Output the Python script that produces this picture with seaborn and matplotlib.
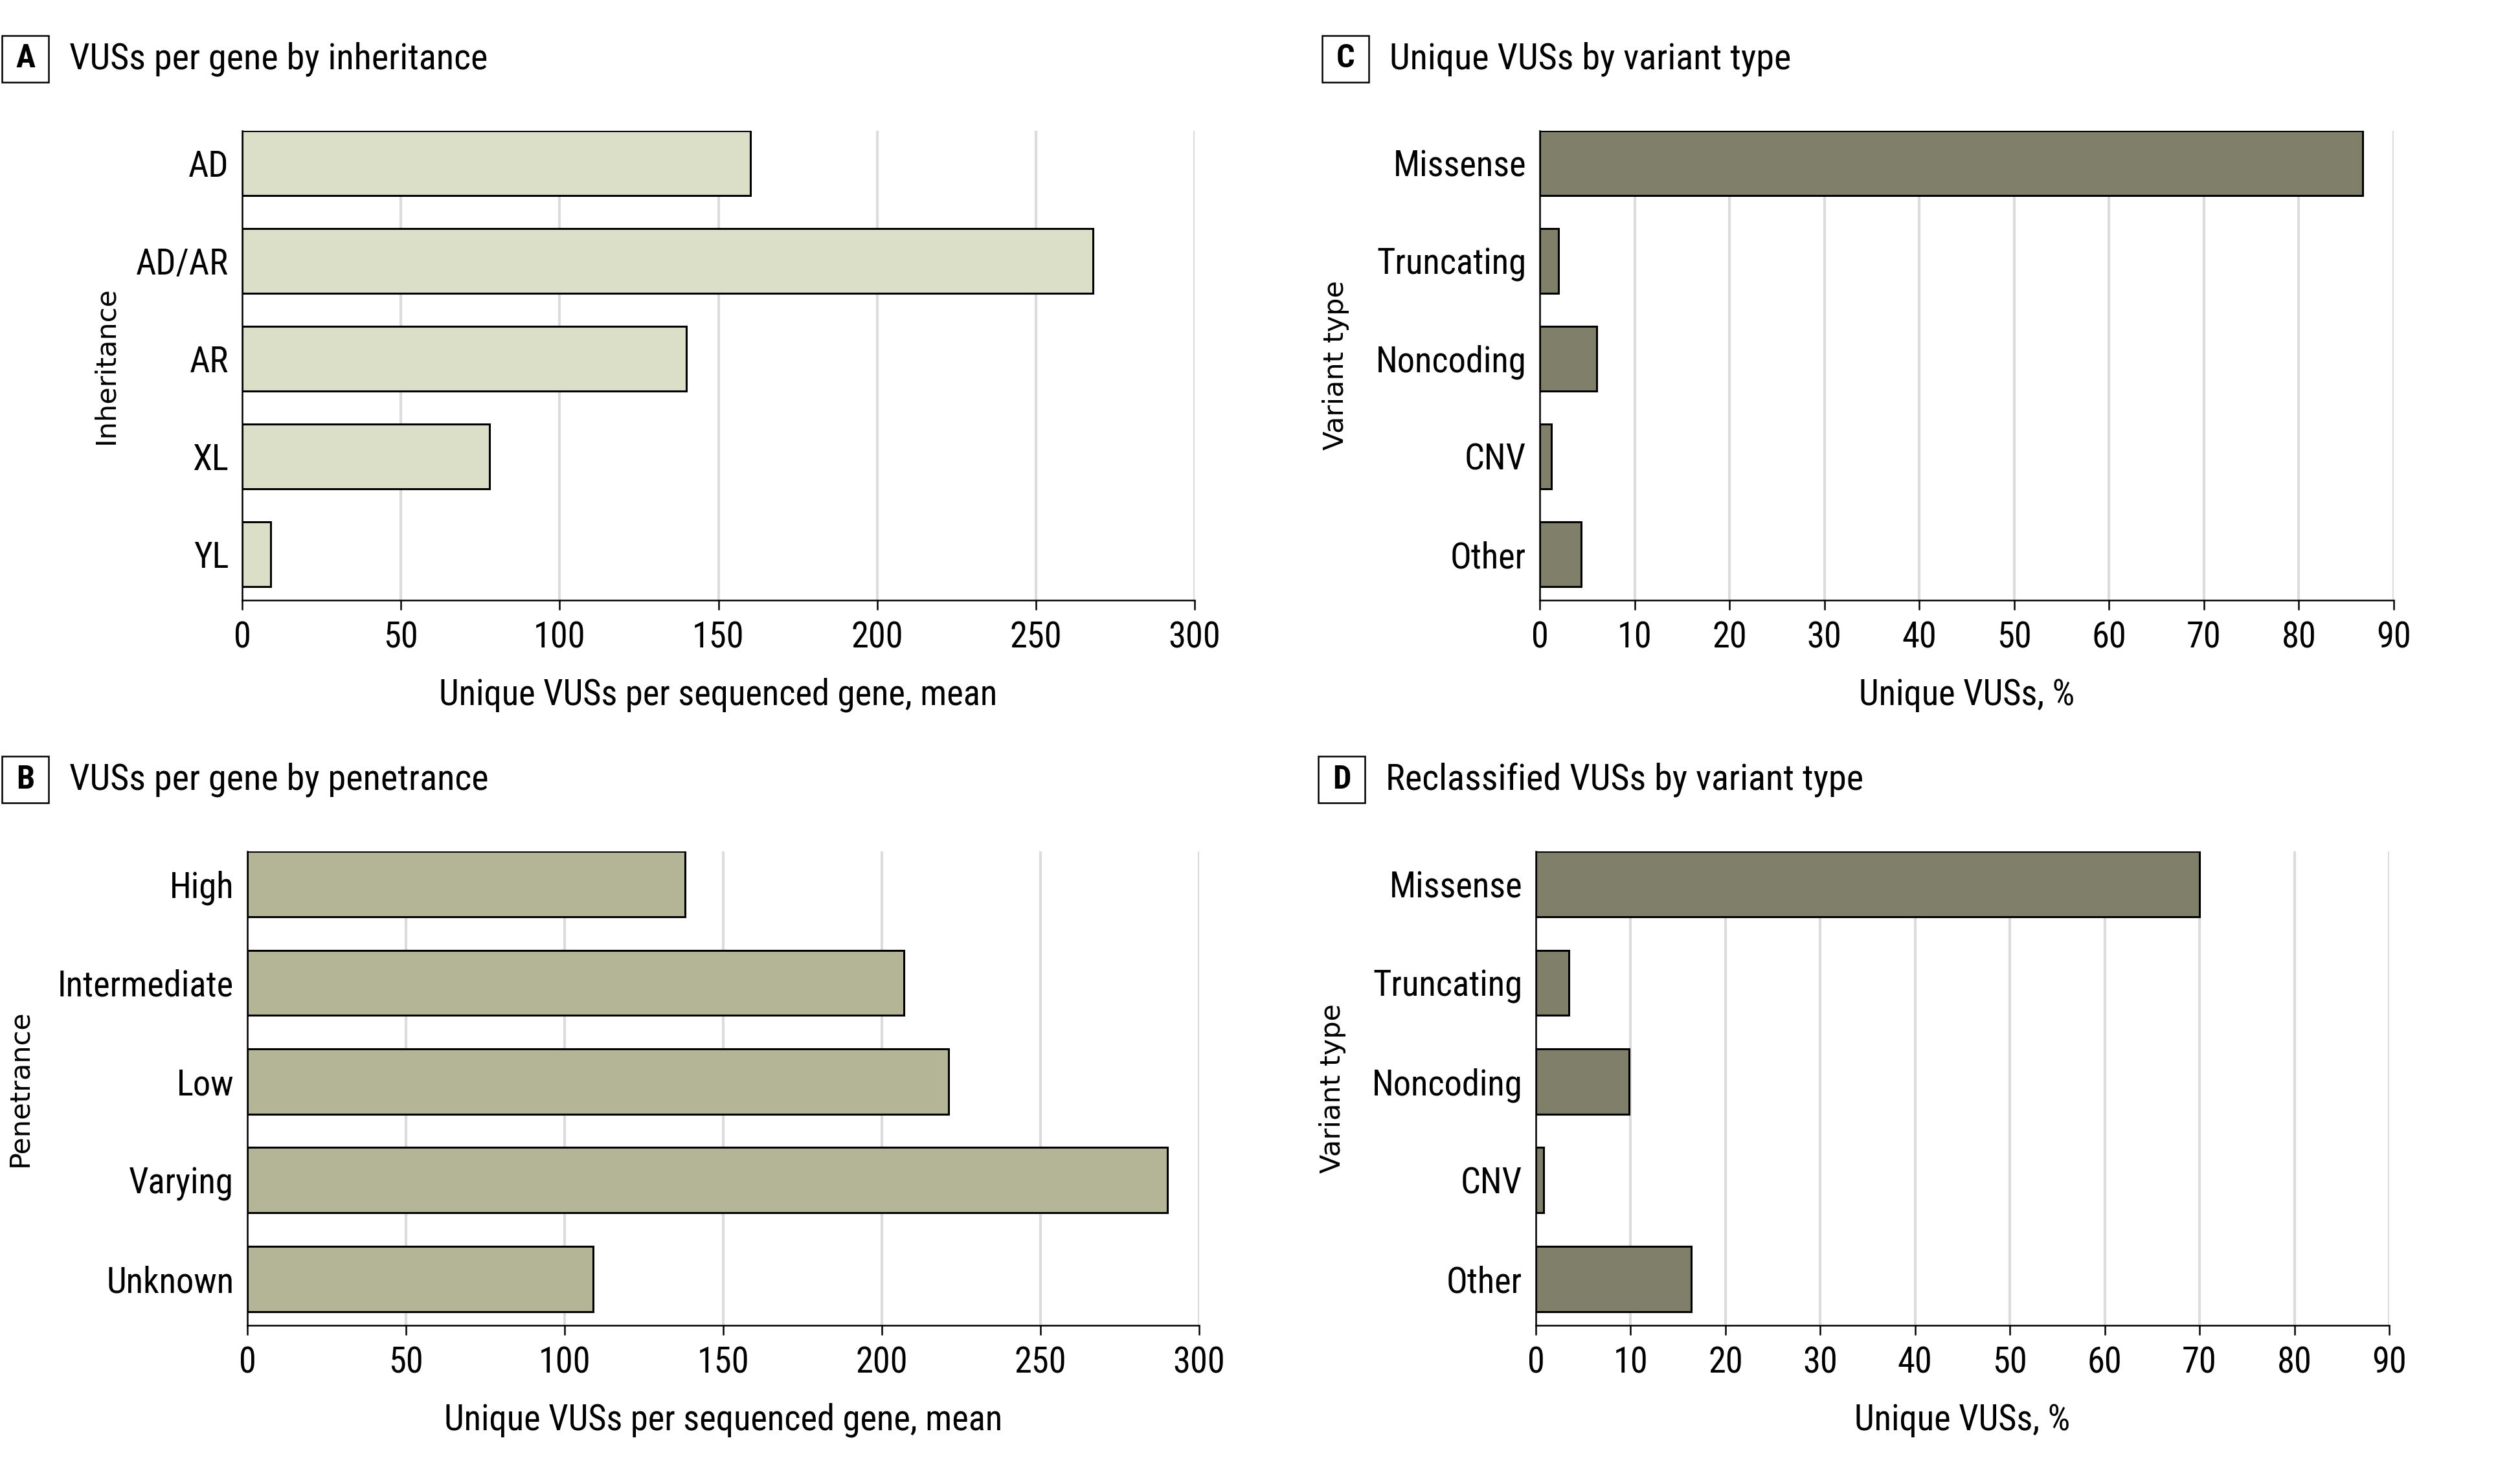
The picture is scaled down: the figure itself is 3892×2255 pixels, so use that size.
import matplotlib
matplotlib.use("Agg")
import matplotlib.pyplot as plt
import seaborn as sns
from matplotlib.patches import Rectangle
from matplotlib import font_manager
from matplotlib.textpath import TextPath

# data
inheritance = ["AD", "AD/AR", "AR", "XL", "YL"]
inheritance_vus = [160, 268, 140, 78, 9]

penetrance = ["High", "Intermediate", "Low", "Varying", "Unknown"]
penetrance_vus = [138, 207, 221, 290, 109]

variant_types = ["Missense", "Truncating", "Noncoding", "CNV", "Other"]
unique_pct = [86.7, 2.0, 6.0, 1.2, 4.4]
reclassified_pct = [70.0, 3.5, 9.8, 0.8, 16.4]

sns.set_theme(style="white")

# the journal style uses a condensed face; take the narrowest one we have
installed = {f.name for f in font_manager.fontManager.ttflist}
main_font = "DejaVu Sans"
for cand in ["Liberation Sans Narrow", "Roboto Condensed", "DejaVu Sans Condensed",
             "Open Sans Condensed", "Noto Sans Condensed", "Roboto"]:
    if cand in installed:
        main_font = cand
        break
plt.rcParams['font.family'] = [main_font, 'DejaVu Sans']

# size the text so "Intermediate" is as wide as in the reference (~266 px)
probe = TextPath((0, 0), "Intermediate", size=1,
                 prop=font_manager.FontProperties(family=main_font))
FS = min(42, 266 * 0.72 / probe.get_extents().width)

W, H = 3892, 2255
fig = plt.figure(figsize=(W / 100, H / 100), dpi=100)

mean_label = "Unique VUSs per sequenced gene, mean"
pct_label = "Unique VUSs, %"

# letter, title, categories, values, colour, ylabel, xlabel, xmax, step,
# axes box in pixels (left, top, right, bottom), box left px, ylabel centre px
panels = [
    ("A", "VUSs per gene by inheritance", inheritance, inheritance_vus, "#dbdfc8",
     "Inheritance", mean_label, 300, 50, (374, 202, 1845, 927), 3, 163),
    ("B", "VUSs per gene by penetrance", penetrance, penetrance_vus, "#b3b596",
     "Penetrance", mean_label, 300, 50, (382, 1315, 1852, 2047), 3, 30),
    ("C", "Unique VUSs by variant type", variant_types, unique_pct, "#807f69",
     "Variant type", pct_label, 90, 10, (2378, 202, 3697, 927), 2042, 2063),
    ("D", "Reclassified VUSs by variant type", variant_types, reclassified_pct, "#807f69",
     "Variant type", pct_label, 90, 10, (2372, 1315, 3690, 2047), 2036, 2058),
]

for letter, title, cats, vals, color, ylab, xlab, xmax, step, box, bx, ylx in panels:
    l, t, r, b = box
    ax = fig.add_axes([l / W, 1 - b / H, (r - l) / W, (b - t) / H])
    sns.barplot(x=vals, y=cats, orient="h", color=color, saturation=1,
                edgecolor="black", linewidth=2.2, width=0.66, ax=ax)
    ax.set_xlim(0, xmax)
    ax.set_ylim(4.47, -0.33)
    ax.set_xticks(range(0, xmax + 1, step))
    ax.set_axisbelow(True)
    ax.grid(axis="x", color="#dcdcdc", linewidth=3)
    ax.grid(axis="y", visible=False)
    for s in ["top", "right"]:
        ax.spines[s].set_visible(False)
    for s in ["left", "bottom"]:
        ax.spines[s].set_color("black")
        ax.spines[s].set_linewidth(1.8)
    ax.tick_params(axis="x", bottom=True, length=11, width=1.8, color="black",
                   labelsize=FS, labelcolor="black", pad=12)
    ax.tick_params(axis="y", left=False, labelsize=FS, labelcolor="black", pad=9)
    ax.set_xlabel(xlab, fontsize=FS, color="black", labelpad=25)
    ax.set_ylabel(ylab, fontsize=31, family="DejaVu Sans", color="black")
    ax.yaxis.label.set_verticalalignment("center")
    ax.yaxis.set_label_coords((ylx - l) / (r - l), 0.5)

    # boxed panel letter and panel title
    ty = 1 - ((55 if letter in "AC" else 1168) + 36) / H
    fig.add_artist(Rectangle((bx / W, ty - 36 / H), 72 / W, 72 / H,
                             transform=fig.transFigure, fill=False,
                             edgecolor="black", linewidth=1.8))
    fig.text((bx + 36) / W, ty, letter, ha="center", va="center",
             fontsize=FS * 0.92, fontweight="bold", color="black")
    fig.text((bx + 104) / W, ty, title, ha="left", va="center",
             fontsize=FS * 1.03, color="black")

fig.savefig("out.png", dpi=100)
